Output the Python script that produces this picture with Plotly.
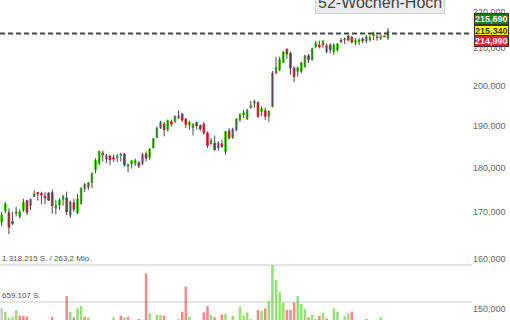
import plotly.graph_objects as go

# ---- data ----
opens = [167.8,170.3,169.9,167.9,169.7,169.0,170.4,172.5,171.4,173.4,
         174.3,174.1,173.5,174.2,174.3,170.8,171.5,172.8,173.1,169.3,
         172.0,169.8,171.9,175.2,175.5,176.6,179.5,181.0,183.4,182.0,
         182.7,182.3,182.3,182.9,183.2,180.3,180.9,181.1,181.1,181.0,
         183.2,182.4,184.7,187.1,189.5,190.4,189.0,191.0,191.0,191.9,
         192.9,191.6,190.3,189.5,190.75,190.0,190.4,188.2,185.7,185.8,
         184.6,185.6,183.8,188.7,187.1,189.0,191.4,192.7,191.7,194.5,
         195.6,195.8,193.5,193.7,192.3,194.8,203.3,204.2,206.2,209.7,
         208.6,204.7,203.8,203.8,205.1,207.9,206.9,210.4,210.8,210.8,
         209.0,210.8,209.0,209.5,212.2,212.2,213.3,212.9,211.6,211.8,
         212.5,212.0,212.2,213.4,213.1,212.7,213.3,212.7]
highs = [170.0,172.2,170.8,170.0,171.1,170.6,172.9,172.6,172.9,174.8,
         174.5,174.5,174.4,174.4,175.0,172.7,173.1,173.8,174.5,172.5,
         172.9,174.0,175.5,176.5,176.7,178.9,182.2,184.0,184.0,183.2,
         183.0,183.0,183.2,183.4,183.4,181.0,181.7,182.1,181.6,183.4,
         183.8,184.6,187.0,189.8,191.2,190.9,191.5,191.5,192.5,193.8,
         193.1,191.9,191.2,190.6,191.0,190.3,190.9,188.6,187.0,187.6,
         186.2,186.6,188.7,189.4,189.5,191.9,193.1,193.9,194.2,196.2,
         196.5,196.0,194.8,194.5,193.9,203.9,207.7,207.7,209.2,209.9,
         209.0,205.1,205.1,206.4,208.2,208.4,210.1,212.0,212.0,212.2,
         211.3,211.3,211.3,211.3,212.7,212.9,213.6,213.4,212.7,212.7,
         212.9,213.6,213.6,214.5,213.6,213.6,213.4,215.5]
lows = [166.9,169.7,165.2,167.2,169.0,168.6,170.0,169.3,170.4,173.3,
        172.5,171.7,171.7,172.4,169.6,169.5,170.4,171.4,169.3,168.7,
        170.0,169.5,171.6,174.4,174.9,175.3,178.7,180.6,181.4,181.0,
        180.6,181.3,181.3,181.4,180.2,178.9,179.8,180.4,179.9,180.6,
        181.4,181.8,184.4,187.0,189.2,187.4,188.6,189.8,190.7,191.7,
        190.9,189.4,189.0,187.6,189.1,188.6,187.8,184.6,185.4,184.0,
        184.0,184.6,183.0,186.6,186.8,188.6,191.0,191.9,191.4,194.2,
        194.4,191.9,192.3,191.4,191.0,194.5,203.1,203.8,206.0,207.1,
        202.9,201.0,202.4,203.3,204.7,206.0,206.6,209.9,209.9,210.1,
        208.6,208.6,208.2,209.0,211.3,211.1,211.8,211.3,210.7,210.8,
        211.3,211.3,211.8,212.2,212.0,212.2,213.0,212.2]
closes = [169.3,171.7,166.7,167.5,170.0,170.0,172.1,169.9,172.8,174.0,
          174.0,173.8,173.1,172.6,171.4,171.4,172.6,173.4,170.0,172.2,
          170.6,172.9,175.2,176.1,176.5,178.6,181.6,183.8,183.0,182.8,
          181.8,182.0,182.6,183.2,180.6,180.6,181.6,181.6,180.4,183.0,
          182.2,184.3,186.8,189.4,190.8,189.0,191.3,190.4,192.3,192.3,
          191.4,190.3,190.75,190.3,190.0,189.2,188.2,185.2,186.4,184.2,
          185.8,185.0,188.6,187.0,189.1,191.6,192.7,193.1,193.7,195.0,
          196.0,192.3,194.2,192.3,193.5,203.3,204.8,206.9,208.9,208.4,
          204.7,202.4,204.7,206.0,207.9,206.9,209.9,211.3,210.4,211.8,
          210.7,209.5,210.8,211.1,211.8,212.5,212.2,211.6,212.0,212.2,
          212.0,213.1,212.9,213.9,212.9,213.1,213.1,214.7]
volumes = [547000,486000,380000,386000,517000,415000,415000,397000,300000,290000,
           310000,280000,300000,290000,397000,320000,300000,280000,766000,486000,
           386000,547000,588000,397000,386000,320000,330000,320000,290000,280000,
           300000,386000,280000,415000,386000,397000,300000,290000,356000,320000,
           1170000,458000,330000,428000,428000,415000,320000,300000,310000,356000,
           486000,932000,397000,330000,300000,310000,475000,588000,428000,386000,
           320000,440000,451000,320000,410000,330000,575000,415000,475000,356000,
           320000,517000,504000,547000,677000,1318215,1050000,837000,647000,517000,
           517000,654000,766000,623000,534000,386000,428000,356000,410000,469000,
           369000,320000,547000,486000,330000,410000,458000,486000,320000,310000,
           300000,356000,300000,320000,300000,386000,300000,330000]
vol_dir = ['n','u','u','u','u','d','d','d','u','u',
           'd','d','d','d','d','u','u','u','d','u',
           'd','u','u','d','u','u','u','u','d','u',
           'd','u','u','d','u','d','u','u','d','u',
           'd','u','u','u','u','d','u','d','u','n',
           'd','d','u','u','d','d','d','d','u','d',
           'u','d','u','d','u','u','u','u','u','u',
           'u','d','u','d','u','u','u','u','u','d',
           'd','d','u','u','u','d','u','u','d','u',
           'd','d','u','u','d','u','u','d','u','u',
           'd','d','u','u','d','u','d','u']
price_ticks = [150, 160, 170, 180, 190, 200, 210, 220]
price_tick_labels = ["150,000", "160,000", "170,000", "180,000",
                     "190,000", "200,000", "210,000", "220,000"]
high_52w = 214.0
high_52w_label = "52-Wochen-Hoch"
quote_tags = ["215,690", "215,340", "214,990"]
vol_grid = [659107, 1318215]
vol_labels = ["659.107 S.", "1.318.215 S. / 263,2 Mio."]

# ---- styling ----
GREEN = '#46c71a'
RED = '#ec1c24'
WICK = '#4a4a4a'
VOL_COL = {'u': 'rgba(120,210,80,0.75)', 'd': 'rgba(235,100,100,0.75)', 'n': 'rgba(190,190,190,0.8)'}
FONT = 'Liberation Sans, Arial, sans-serif'

n = len(opens)
xs = list(range(n))
X_RANGE = [-0.47, 130.28]

wx, wy = [], []
for i in xs:
    wx += [i, i, None]
    wy += [lows[i], highs[i], None]

body_hi = [max(o, c) for o, c in zip(opens, closes)]
body_lo = [min(o, c) for o, c in zip(opens, closes)]

fig = go.Figure()
fig.add_trace(go.Bar(x=xs, y=volumes, yaxis='y2', width=0.7,
                     marker=dict(color=[VOL_COL[d] for d in vol_dir], line=dict(width=0)),
                     hoverinfo='skip'))
fig.add_trace(go.Scatter(x=wx, y=wy, mode='lines', line=dict(color=WICK, width=1),
                         hoverinfo='skip'))
fig.add_trace(go.Candlestick(x=xs, open=opens, high=body_hi, low=body_lo, close=closes,
                             increasing=dict(line=dict(color=GREEN, width=0.8), fillcolor=GREEN),
                             decreasing=dict(line=dict(color=RED, width=0.8), fillcolor=RED),
                             whiskerwidth=0))
fig.add_trace(go.Scatter(x=X_RANGE, y=[high_52w, high_52w], mode='lines',
                         line=dict(color='#444444', width=2, dash='5px,3px'),
                         hoverinfo='skip'))

fig.update_layout(
    width=510, height=320,
    margin=dict(l=0, r=38, t=0, b=0),
    paper_bgcolor='white', plot_bgcolor='white',
    showlegend=False,
    font=dict(family=FONT),
    xaxis=dict(range=X_RANGE, visible=False, rangeslider=dict(visible=False)),
    yaxis=dict(type='log', range=[2.16993, 2.34914], side='right',
               tickvals=price_ticks, ticktext=price_tick_labels,
               showgrid=False, zeroline=False, ticks='', showline=False,
               tickfont=dict(size=9, color='#666666', family=FONT)),
    yaxis2=dict(overlaying='y', range=[338466, 6038915], tickvals=vol_grid,
                showticklabels=False, showgrid=True, gridcolor='#e4e4e4', gridwidth=2,
                zeroline=False, side='left'),
)

# 52-week-high label box
fig.add_annotation(xref='paper', yref='paper', x=(380/472), y=1 - 14/320,
                   xanchor='center', yanchor='bottom', text=high_52w_label,
                   showarrow=False, font=dict(size=16, color='#444444', family=FONT),
                   bgcolor='#ececec', bordercolor='#d2d2d2', borderwidth=1, borderpad=2)

# quote tags on the right
tag_style = [('#1e7b1e', 'white'), ('#ffff00', '#333333'), ('#ee1c30', 'white')]
tag_centers = [19.5, 30.5, 41.5]
for txt, (bg, fc), cy in zip(quote_tags, tag_style, tag_centers):
    fig.add_annotation(xref='paper', yref='paper', x=1, y=1 - cy/320,
                       xanchor='left', yanchor='middle', xshift=2,
                       text='<b>' + txt + '</b>', showarrow=False,
                       font=dict(size=9, color=fc, family=FONT),
                       bgcolor=bg, bordercolor='#333333', borderwidth=1, borderpad=0)

# volume labels
for val, txt in zip(vol_grid, vol_labels):
    fig.add_annotation(xref='paper', yref='y2', x=0, y=val, xanchor='left', yanchor='bottom',
                       text=txt, showarrow=False, xshift=0,
                       font=dict(size=8, color='#555555', family=FONT))

fig.write_html("out.html")
